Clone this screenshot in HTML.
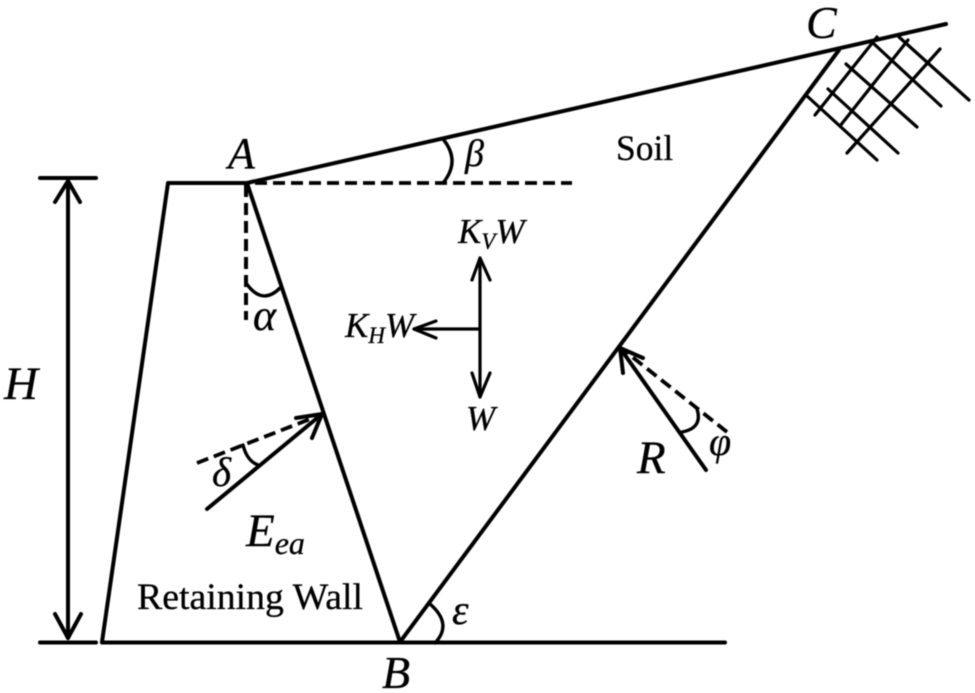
<!DOCTYPE html>
<html>
<head>
<meta charset="utf-8">
<style>
html,body{margin:0;padding:0;background:#fff;width:975px;height:693px;overflow:hidden}
svg{display:block;filter:blur(.45px)}
text{font-family:"Liberation Serif",serif;fill:#000;stroke:#000;stroke-width:.3}
.i{font-style:italic}
.l{stroke:#000;stroke-width:4;fill:none;stroke-linecap:round;stroke-linejoin:round}
.m{stroke:#000;stroke-width:3.2;fill:none;stroke-linecap:round;stroke-linejoin:round}
.t{stroke:#000;stroke-width:3.400;fill:none;stroke-linecap:round;stroke-linejoin:round}
.d{stroke:#000;stroke-width:3.800;fill:none;stroke-dasharray:12 6}
</style>
</head>
<body>
<svg width="975" height="693" viewBox="0 0 975 693" xmlns="http://www.w3.org/2000/svg">
<!-- wall and slope -->
<polyline class="l" points="102,642 168,183 247,183"/>
<line class="l" x1="102" y1="642.500" x2="725" y2="642.500"/>
<line class="l" x1="247" y1="183" x2="946" y2="24"/>
<line class="l" x1="247" y1="183" x2="400" y2="642"/>
<line class="l" x1="400" y1="642" x2="839" y2="50"/>
<!-- dashed -->
<line class="d" x1="255" y1="183" x2="572" y2="183"/>
<line class="d" style="stroke-width:4" x1="246" y1="185" x2="246" y2="320"/>
<!-- H dimension -->
<line class="l" x1="40" y1="178" x2="96" y2="178"/>
<line class="l" x1="40" y1="642.500" x2="96" y2="642.500"/>
<line class="l" x1="68" y1="181" x2="68" y2="638"/>
<polyline class="l" points="55,202 68,181 80,202"/>
<polyline class="l" points="55,614 68,638 81,614"/>
<!-- angle arcs -->
<path class="t" d="M246,283 Q262,306 280,288"/>
<path class="t" d="M443,139 Q461,161 443,183"/>
<path class="t" d="M430,604 Q453,624 435,643"/>
<path class="t" d="M243,445 Q247,461 258,465"/>
<path class="t" d="M682,432 Q703,428 697,409"/>
<!-- W forces -->
<line class="m" x1="480" y1="258" x2="480" y2="397"/>
<polyline class="m" points="472,280 480,258 490,280"/>
<polyline class="m" points="472,373 480,397 490,373"/>
<line class="m" x1="480" y1="329" x2="414" y2="329"/>
<polyline class="m" points="436,321 414,329 436,338"/>
<!-- Eea arrow -->
<line class="l" x1="207" y1="509" x2="322" y2="414"/>
<polyline class="l" points="296,418 322,414 312,438"/>
<line class="d" x1="197" y1="463" x2="318" y2="416"/>
<!-- R arrow -->
<line class="l" x1="706" y1="470" x2="620" y2="348"/>
<polyline class="l" points="623,373 620,348 643,358"/>
<line class="d" x1="727" y1="432" x2="626" y2="352"/>
<!-- grid -->
<g class="m">
<line x1="815" y1="115" x2="877" y2="37"/>
<line x1="840" y1="126" x2="908" y2="40"/>
<line x1="847" y1="153" x2="940" y2="49"/>
<line x1="807" y1="96" x2="877" y2="160"/>
<line x1="828" y1="89" x2="898" y2="153"/>
<line x1="846" y1="64" x2="917" y2="127"/>
<line x1="873" y1="43" x2="941" y2="106"/>
<line x1="899" y1="37" x2="969" y2="100"/>
</g>
<!-- labels -->
<text class="i" x="228" y="168" font-size="44">A</text>
<text class="i" x="382" y="688" font-size="46">B</text>
<text class="i" x="806" y="38" font-size="46">C</text>
<text class="i" x="4" y="399" font-size="47">H</text>
<text class="i" x="637" y="473" font-size="47">R</text>
<text class="i" x="246" y="546" font-size="47">E<tspan font-size="32" dy="8">ea</tspan></text>
<text x="137" y="609" font-size="36.500" textLength="226" lengthAdjust="spacingAndGlyphs">Retaining Wall</text>
<text x="616" y="160" font-size="35.500">Soil</text>
<text class="i" x="458" y="243" font-size="35">K<tspan font-size="23" dy="6">V</tspan><tspan dy="-6">W</tspan></text>
<text class="i" x="345" y="337" font-size="35">K<tspan font-size="23" dy="6">H</tspan><tspan dy="-6">W</tspan></text>
<text class="i" x="466" y="430" font-size="35">W</text>
<text class="i" x="253" y="330" font-size="44">α</text>
<text class="i" x="465" y="166" font-size="38">β</text>
<text class="i" x="212" y="486" font-size="41">δ</text>
<text class="i" x="452" y="624" font-size="42">ε</text>
<text class="i" x="709" y="455" font-size="40">φ</text>
</svg>
</body>
</html>
